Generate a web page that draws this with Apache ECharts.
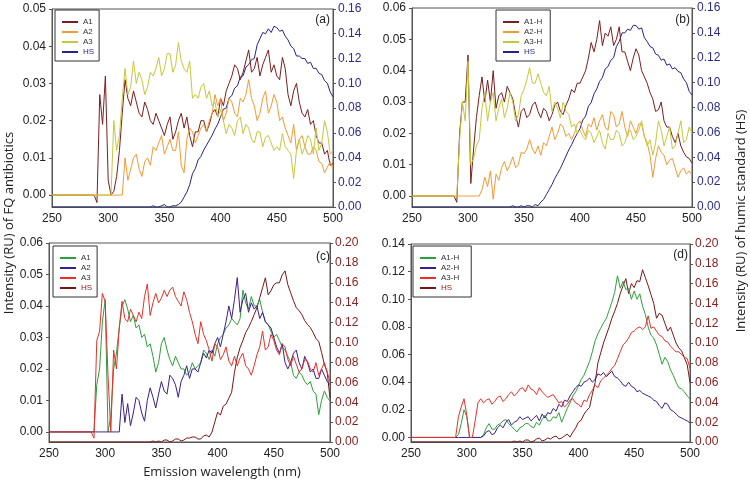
<!DOCTYPE html>
<html>
<head>
<meta charset="utf-8">
<script src="https://cdn.jsdelivr.net/npm/echarts@6/dist/echarts.min.js"></script>
<style>
html, body { margin: 0; padding: 0; background: #fff; }
#chart { width: 750px; height: 481px; }
</style>
</head>
<body>
<div id="chart"></div>
<script>
var myChart = echarts.init(document.getElementById('chart'));

// emission wavelength (nm), shared by every curve
var wl = [250, 287.5, 290, 292.5, 295, 297.5,
  300, 302.5, 305, 307.5, 310, 312.5, 315, 317.5, 320, 322.5, 325, 327.5, 330, 332.5, 335, 337.5, 340, 342.5, 345, 347.5,
  350, 352.5, 355, 357.5, 360, 362.5, 365, 367.5, 370, 372.5, 375, 377.5, 380, 382.5, 385, 387.5, 390, 392.5, 395, 397.5,
  400, 402.5, 405, 407.5, 410, 412.5, 415, 417.5, 420, 422.5, 425, 427.5, 430, 432.5, 435, 437.5, 440, 442.5, 445, 447.5,
  450, 452.5, 455, 457.5, 460, 462.5, 465, 467.5, 470, 472.5, 475, 477.5, 480, 482.5, 485, 487.5, 490, 492.5, 495, 497.5,
  500];

// (a) FQ antibiotics (left axis) + HS (right axis)
var aA1 = [0, 0, -0.002, 0.027, 0.019, 0.032,
  0.004, 0, 0.001, 0.005, 0.012, 0.022, 0.031, 0.026, 0.024, 0.028, 0.025, 0.022, 0.021, 0.025, 0.023, 0.02, 0.019, 0.022, 0.02, 0.018,
  0.016, 0.019, 0.021, 0.015, 0.017, 0.02, 0.022, 0.018, 0.021, 0.016, 0.013, 0.017, 0.017, 0.02, 0.02, 0.017, 0.019, 0.022, 0.023, 0.021,
  0.026, 0.024, 0.028, 0.03, 0.032, 0.035, 0.034, 0.031, 0.033, 0.036, 0.039, 0.033, 0.034, 0.037, 0.032, 0.035, 0.037, 0.039, 0.033, 0.035,
  0.032, 0.031, 0.037, 0.034, 0.027, 0.024, 0.028, 0.03, 0.025, 0.022, 0.021, 0.023, 0.019, 0.02, 0.016, 0.014, 0.014, 0.011, 0.012, 0.008,
  0.0085];
var aA2 = [0, 0, 0, 0, 0, 0,
  0, 0, 0, 0, 0, 0, 0.01, 0.004, 0.007, 0.01, 0.011, 0.007, 0.005, 0.009, 0.01, 0.008, 0.013, 0.012, 0.014, 0.016,
  0.011, 0.013, 0.015, 0.012, 0.012, 0.017, 0.008, 0.006, 0.015, 0.018, 0.017, 0.014, 0.016, 0.018, 0.019, 0.017, 0.02, 0.022, 0.027, 0.024,
  0.026, 0.02, 0.022, 0.026, 0.025, 0.022, 0.021, 0.026, 0.025, 0.027, 0.031, 0.026, 0.024, 0.02, 0.022, 0.026, 0.028, 0.022, 0.024, 0.027,
  0.025, 0.02, 0.021, 0.018, 0.016, 0.014, 0.019, 0.012, 0.015, 0.016, 0.013, 0.011, 0.011, 0.013, 0.012, 0.009, 0.0085, 0.006, 0.0075, 0.009,
  0.007];
var aA3 = [0, 0, 0, 0, 0, 0,
  0, 0, 0.02, 0.012, 0.016, 0.026, 0.034, 0.027, 0.029, 0.036, 0.03, 0.033, 0.031, 0.027, 0.029, 0.033, 0.032, 0.034, 0.037, 0.032,
  0.034, 0.038, 0.038, 0.033, 0.035, 0.041, 0.036, 0.034, 0.033, 0.036, 0.026, 0.027, 0.026, 0.029, 0.03, 0.026, 0.028, 0.024, 0.025, 0.021,
  0.023, 0.02, 0.0165, 0.019, 0.018, 0.016, 0.02, 0.021, 0.0165, 0.019, 0.018, 0.015, 0.014, 0.017, 0.017, 0.013, 0.0155, 0.016, 0.014, 0.012,
  0.013, 0.012, 0.0165, 0.013, 0.012, 0.011, 0.0045, 0.012, 0.015, 0.011, 0.013, 0.016, 0.015, 0.011, 0.018, 0.012, 0.014, 0.02, 0.017, 0.011,
  0.012];
var aHS = [0, 0, 0, 0, 0, 0,
  0, 0, 0, 0, 0, 0, 0, 0, 0, 0, 0, 0, 0, 0, 0, 0, 0.001, 0, 0, 0.001,
  0.002, 0, 0, 0.001, 0.001, 0.002, 0.004, 0.008, 0.012, 0.018, 0.027, 0.031, 0.038, 0.041, 0.046, 0.05, 0.054, 0.058, 0.063, 0.067,
  0.073, 0.079, 0.08, 0.088, 0.09, 0.096, 0.098, 0.105, 0.106, 0.113, 0.115, 0.119, 0.12, 0.131, 0.136, 0.141, 0.14, 0.144, 0.141, 0.146,
  0.145, 0.142, 0.143, 0.138, 0.135, 0.13, 0.128, 0.122, 0.122, 0.12, 0.12, 0.116, 0.117, 0.112, 0.112, 0.108, 0.107, 0.102, 0.1, 0.093,
  0.089];

// (b) -H samples + HS
var bA1 = [0, 0, -0.002, 0.02, 0.03, 0.03,
  0.045, 0.004, 0.015, 0.025, 0.032, 0.038, 0.03, 0.037, 0.03, 0.04, 0.028, 0.032, 0.033, 0.03, 0.035, 0.033, 0.031, 0.026, 0.022, 0.027,
  0.028, 0.025, 0.026, 0.029, 0.03, 0.027, 0.025, 0.028, 0.027, 0.024, 0.026, 0.029, 0.03, 0.027, 0.026, 0.029, 0.031, 0.034, 0.033, 0.036,
  0.036, 0.038, 0.04, 0.044, 0.049, 0.046, 0.05, 0.056, 0.048, 0.052, 0.051, 0.054, 0.048, 0.05, 0.054, 0.046, 0.046, 0.043, 0.04, 0.044,
  0.047, 0.045, 0.04, 0.038, 0.036, 0.033, 0.031, 0.027, 0.0275, 0.03, 0.024, 0.022, 0.022, 0.019, 0.017, 0.02, 0.016, 0.014, 0.0125, 0.012,
  0.0105];
var bA2 = [0, 0, 0, 0, 0, 0,
  0, 0, 0, 0, 0, 0.002, 0.006, 0.003, 0.008, -0.001, 0.007, 0.005, 0.009, 0.011, 0.008, 0.01, 0.0125, 0.009, 0.01, 0.014,
  0.0135, 0.015, 0.018, 0.015, 0.0135, 0.016, 0.013, 0.017, 0.016, 0.019, 0.022, 0.018, 0.02, 0.023, 0.022, 0.019, 0.02, 0.018, 0.02, 0.023,
  0.024, 0.021, 0.019, 0.023, 0.022, 0.025, 0.021, 0.024, 0.026, 0.022, 0.021, 0.027, 0.026, 0.022, 0.023, 0.027, 0.022, 0.019, 0.024, 0.022,
  0.02, 0.023, 0.023, 0.019, 0.017, 0.013, 0.006, 0.012, 0.016, 0.014, 0.013, 0.01, 0.0115, 0.012, 0.009, 0.006, 0.008, 0.009, 0.007, 0.008,
  0.0067];
var bA3 = [0, 0, 0, 0.018, 0.03, 0.024,
  0.043, 0.01, 0.012, 0.016, 0.018, 0.028, 0.033, 0.024, 0.03, 0.033, 0.024, 0.028, 0.031, 0.025, 0.028, 0.033, 0.03, 0.024, 0.026, 0.032,
  0.034, 0.037, 0.041, 0.036, 0.036, 0.039, 0.036, 0.033, 0.032, 0.035, 0.027, 0.03, 0.028, 0.025, 0.03, 0.027, 0.026, 0.022, 0.023, 0.02,
  0.021, 0.019, 0.018, 0.021, 0.02, 0.017, 0.019, 0.021, 0.017, 0.015, 0.02, 0.018, 0.018, 0.021, 0.02, 0.016, 0.017, 0.02, 0.021, 0.018,
  0.019, 0.021, 0.024, 0.019, 0.016, 0.018, 0.013, 0.017, 0.024, 0.021, 0.016, 0.019, 0.022, 0.015, 0.016, 0.02, 0.024, 0.017, 0.018, 0.022,
  0.02];
var bHS = [0, 0, 0, 0, 0, 0,
  0, 0, 0, 0, 0, 0, 0, 0, 0, 0, 0, 0, 0, 0, 0, 0, 0.001, 0, 0, 0.001,
  0, 0.001, 0.001, 0, 0.002, 0.001, 0.004, 0.006, 0.01, 0.014, 0.018, 0.023, 0.027, 0.031, 0.036, 0.041, 0.046, 0.05, 0.055, 0.059,
  0.063, 0.07, 0.073, 0.081, 0.084, 0.091, 0.095, 0.101, 0.104, 0.111, 0.113, 0.118, 0.12, 0.129, 0.133, 0.14, 0.14, 0.143, 0.142, 0.146,
  0.146, 0.143, 0.144, 0.136, 0.133, 0.129, 0.128, 0.123, 0.122, 0.118, 0.119, 0.114, 0.115, 0.111, 0.112, 0.109, 0.108, 0.103, 0.1, 0.093,
  0.09];

// (c)
var cA1 = [0, 0, 0, 0.015, 0.02, 0.035,
  0.042, 0, 0.005, 0.02, 0.025, 0.033, 0.04, 0.042, 0.039, 0.035, 0.037, 0.033, 0.034, 0.03, 0.031, 0.027, 0.028, 0.024, 0.019, 0.022,
  0.028, 0.03, 0.026, 0.023, 0.021, 0.024, 0.022, 0.02, 0.02, 0.018, 0.019, 0.022, 0.02, 0.021, 0.022, 0.026, 0.025, 0.023, 0.026, 0.024,
  0.028, 0.03, 0.031, 0.033, 0.034, 0.036, 0.035, 0.034, 0.036, 0.045, 0.041, 0.039, 0.043, 0.04, 0.04, 0.042, 0.038, 0.035, 0.034, 0.032,
  0.03, 0.031, 0.029, 0.027, 0.026, 0.024, 0.022, 0.018, 0.017, 0.019, 0.018, 0.016, 0.015, 0.016, 0.013, 0.012, 0.0055, 0.01, 0.013, 0.011,
  0.0098];
var cA2 = [0, 0, 0, 0, 0, 0,
  0, 0, 0, 0, 0, 0, 0.012, 0.003, 0.009, 0.002, 0.006, 0.011, 0.01, 0.006, 0.0034, 0.01, 0.014, 0.011, 0.0076, 0.012,
  0.016, 0.013, 0.012, 0.018, 0.017, 0.015, 0.011, 0.016, 0.018, 0.021, 0.017, 0.02, 0.02, 0.019, 0.022, 0.025, 0.0235, 0.026, 0.025, 0.028,
  0.03, 0.027, 0.031, 0.035, 0.04, 0.036, 0.042, 0.049, 0.038, 0.042, 0.044, 0.038, 0.041, 0.039, 0.04, 0.036, 0.038, 0.035, 0.034, 0.033,
  0.03, 0.027, 0.025, 0.028, 0.022, 0.02, 0.022, 0.025, 0.026, 0.022, 0.02, 0.024, 0.022, 0.019, 0.02, 0.017, 0.017, 0.02, 0.018, 0.016,
  0.015];
var cA3 = [0, 0, -0.002, 0.029, 0.032, 0.044,
  0.0415, 0.018, 0, 0.026, 0.02, 0.033, 0.0415, 0.036, 0.035, 0.039, 0.037, 0.035, 0.038, 0.036, 0.043, 0.047, 0.037, 0.041, 0.044, 0.041,
  0.0425, 0.045, 0.043, 0.045, 0.046, 0.043, 0.0415, 0.04, 0.0445, 0.042, 0.038, 0.035, 0.031, 0.028, 0.035, 0.031, 0.029, 0.026, 0.0225, 0.028,
  0.027, 0.023, 0.0245, 0.027, 0.0225, 0.021, 0.024, 0.021, 0.0235, 0.025, 0.021, 0.02, 0.018, 0.021, 0.0245, 0.027, 0.032, 0.026, 0.027, 0.031,
  0.029, 0.026, 0.0245, 0.028, 0.027, 0.023, 0.021, 0.024, 0.0215, 0.019, 0.02, 0.023, 0.0225, 0.02, 0.019, 0.022, 0.018, 0.02, 0.022, 0.019,
  0.016];
var cHS = [0, 0, 0, 0, 0, 0,
  0, 0, 0, 0, 0, 0, 0, 0, 0, 0, 0, 0, 0, 0, 0, 0, 0, 0.001, 0, 0.001,
  0, 0.002, 0.002, 0, 0.001, 0.003, 0.003, 0.001, 0.002, 0.004, 0.004, 0.005, 0.005, 0.003, 0.003, 0.006, 0.007, 0.005, 0.01, 0.02,
  0.03, 0.027, 0.036, 0.038, 0.044, 0.05, 0.07, 0.085, 0.095, 0.102, 0.11, 0.115, 0.121, 0.128, 0.135, 0.145, 0.155, 0.165, 0.148, 0.152,
  0.158, 0.16, 0.16, 0.168, 0.172, 0.158, 0.15, 0.142, 0.135, 0.132, 0.128, 0.122, 0.118, 0.115, 0.11, 0.104, 0.101, 0.09, 0.078, 0.07,
  0.044];

// (d)
var dA1 = [0, 0, 0, 0.002, 0.01, 0.02,
  0.015, 0, 0, 0, 0, 0, 0.002, 0.007, 0.01, 0.006, 0.006, 0.009, 0.01, 0.012, 0.013, 0.01, 0.008, 0.006, 0.004, 0.007,
  0.008, 0.01, 0.01, 0.008, 0.007, 0.011, 0.009, 0.013, 0.016, 0.012, 0.012, 0.015, 0.014, 0.018, 0.011, 0.016, 0.021, 0.025, 0.03, 0.033,
  0.037, 0.042, 0.045, 0.05, 0.055, 0.062, 0.07, 0.075, 0.079, 0.083, 0.086, 0.092, 0.098, 0.105, 0.117, 0.108, 0.113, 0.107, 0.108, 0.1,
  0.106, 0.1, 0.104, 0.095, 0.089, 0.08, 0.074, 0.072, 0.067, 0.06, 0.053, 0.058, 0.055, 0.049, 0.045, 0.04, 0.036, 0.035, 0.033, 0.03,
  0.028];
var dA2 = [0, 0, 0, 0, 0, 0,
  0, 0, 0, 0, 0, 0, 0.001, 0.004, 0.005, 0.002, 0.003, 0.007, 0.009, 0.007, 0.011, 0.013, 0.009, 0.011, 0.012, 0.015,
  0.013, 0.014, 0.015, 0.012, 0.014, 0.016, 0.012, 0.017, 0.014, 0.018, 0.017, 0.021, 0.019, 0.024, 0.022, 0.027, 0.026, 0.03, 0.033, 0.036,
  0.038, 0.037, 0.04, 0.041, 0.043, 0.04, 0.042, 0.046, 0.045, 0.047, 0.044, 0.046, 0.048, 0.044, 0.043, 0.041, 0.038, 0.037, 0.04, 0.037,
  0.036, 0.033, 0.034, 0.032, 0.031, 0.03, 0.029, 0.027, 0.026, 0.023, 0.021, 0.025, 0.024, 0.02, 0.019, 0.017, 0.015, 0.014, 0.013, 0.012,
  0.0105];
var dA3 = [0, 0, 0, 0.015, 0.022, 0.028,
  0.016, 0, 0, 0.012, 0.025, 0.028, 0.025, 0.027, 0.028, 0.024, 0.026, 0.029, 0.03, 0.026, 0.028, 0.031, 0.033, 0.03, 0.032, 0.035,
  0.036, 0.033, 0.038, 0.035, 0.034, 0.031, 0.036, 0.033, 0.031, 0.029, 0.03, 0.031, 0.028, 0.025, 0.026, 0.022, 0.024, 0.027, 0.028, 0.025,
  0.024, 0.022, 0.027, 0.026, 0.031, 0.034, 0.038, 0.036, 0.041, 0.043, 0.045, 0.047, 0.05, 0.052, 0.057, 0.062, 0.067, 0.069, 0.072, 0.076,
  0.077, 0.079, 0.08, 0.078, 0.08, 0.088, 0.079, 0.08, 0.077, 0.074, 0.073, 0.07, 0.069, 0.066, 0.064, 0.062, 0.062, 0.06, 0.058, 0.057,
  0.05];
var dHS = [0, 0, 0, 0, 0, 0,
  0, 0, 0, 0, 0, 0, 0, 0, 0, 0, 0, 0, 0, 0, 0, 0, 0, 0.001, 0, 0.001,
  0, 0.002, 0.002, 0, 0.001, 0.003, 0.004, 0.001, 0.002, 0.004, 0.003, 0.005, 0.006, 0.003, 0.004, 0.006, 0.008, 0.005, 0.01, 0.014,
  0.02, 0.022, 0.028, 0.032, 0.035, 0.048, 0.06, 0.08, 0.09, 0.1, 0.108, 0.116, 0.125, 0.132, 0.14, 0.15, 0.158, 0.165, 0.15, 0.16,
  0.156, 0.163, 0.162, 0.174, 0.166, 0.158, 0.149, 0.14, 0.125, 0.13, 0.128, 0.12, 0.112, 0.116, 0.108, 0.1, 0.095, 0.092, 0.085, 0.078,
  0.06];

// tick labels
var leftTicksA = [0, 0.01, 0.02, 0.03, 0.04, 0.05];
var leftTicksB = [0, 0.01, 0.02, 0.03, 0.04, 0.05, 0.06];
var leftTicksD = [0, 0.02, 0.04, 0.06, 0.08, 0.10, 0.12, 0.14];

var col1 = ['#7b1e1e', '#f29a35', '#c6c83a', '#24248e'];   // A1 A2 A3 HS  (a,b)
var col2 = ['#2e9e3c', '#3b1f8c', '#e8302a', '#7a1515'];   // A1 A2 A3 HS  (c,d)
var navyLbl = '#2b2b8c', redLbl = '#8a2020';
var tickFont = 'Liberation Sans';

var grids = [
  { left: 52, top: 9, width: 281, height: 198 },
  { left: 412, top: 8, width: 280, height: 199 },
  { left: 49, top: 243, width: 281, height: 199 },
  { left: 411, top: 244, width: 279, height: 198 }
];

function line(name, vals, g, right, color) {
  return {
    name: name, type: 'line', xAxisIndex: g, yAxisIndex: g * 2 + (right ? 1 : 0),
    showSymbol: false, symbol: 'none', animation: false,
    lineStyle: { color: color, width: 1 },
    itemStyle: { color: color },
    data: wl.map(function (x, i) { return [x, vals[i]]; })
  };
}

function xAx(g) {
  return {
    gridIndex: g, type: 'value', min: 250, max: 500, interval: 50,
    axisLine: { show: true, onZero: false, lineStyle: { color: '#555', width: 1 } },
    axisTick: { show: false },
    splitLine: { show: false },
    axisLabel: { color: '#222', fontSize: 12, fontFamily: tickFont, margin: 6 }
  };
}

function leftAx(g, min, max, ticks) {
  return {
    gridIndex: g, type: 'value', position: 'left', min: min, max: max,
    axisLine: { show: true, onZero: false, lineStyle: { color: '#555', width: 1 } },
    axisTick: { show: true, length: 3, customValues: ticks, lineStyle: { color: '#555' } },
    splitLine: { show: false },
    axisLabel: {
      color: '#222', fontSize: 12, fontFamily: tickFont, margin: 6, customValues: ticks,
      formatter: function (v) { return v.toFixed(2); }
    }
  };
}

function rightAx(g, max, color) {
  return {
    gridIndex: g, type: 'value', position: 'right', min: 0, max: max, interval: 0.02,
    axisLine: { show: true, onZero: false, lineStyle: { color: '#555', width: 1 } },
    axisTick: { show: true, length: 3, lineStyle: { color: '#555' } },
    splitLine: { show: false },
    axisLabel: {
      color: color, fontSize: 12, fontFamily: tickFont, margin: 5,
      formatter: function (v) { return v.toFixed(2); }
    }
  };
}

// legend text is dark for the samples, HS takes its axis colour
function legend(prefix, names, hsColor, left, top, padRight) {
  return {
    orient: 'vertical', left: left, top: top,
    selectedMode: false,
    borderColor: '#333', borderWidth: 1, borderRadius: 0,
    padding: [7, padRight, 4, 7],
    itemGap: 0, itemWidth: 16, itemHeight: 2, icon: 'rect',
    textStyle: { fontSize: 8, fontFamily: tickFont, lineHeight: 10, padding: [0, 0, 0, 0] },
    formatter: function (n) { return n.split(':')[1]; },
    data: names.map(function (n) {
      return { name: prefix + ':' + n, textStyle: { color: n === 'HS' ? hsColor : '#333' } };
    })
  };
}

function txt(s, x, y, opt) {
  opt = opt || {};
  return {
    type: 'text', x: x, y: y, rotation: opt.rot || 0, silent: true,
    style: {
      text: s, fill: '#222',
      font: opt.font || '12px "Liberation Sans"',
      align: opt.align || 'center', verticalAlign: 'middle',
      textAlign: opt.align || 'center', textVerticalAlign: 'middle'
    }
  };
}

var namesA = ['A1', 'A2', 'A3', 'HS'];
var namesB = ['A1-H', 'A2-H', 'A3-H', 'HS'];

var option = {
  backgroundColor: '#fff',
  animation: false,
  grid: grids.map(function (g) {
    return { left: g.left, top: g.top, width: g.width, height: g.height,
      show: true, borderColor: '#555', borderWidth: 1, backgroundColor: 'transparent' };
  }),
  xAxis: [xAx(0), xAx(1), xAx(2), xAx(3)],
  yAxis: [
    leftAx(0, -0.0032, 0.05, leftTicksA), rightAx(0, 0.16, navyLbl),
    leftAx(1, -0.0035, 0.06, leftTicksB), rightAx(1, 0.16, navyLbl),
    leftAx(2, -0.0032, 0.06, leftTicksB), rightAx(2, 0.20, redLbl),
    leftAx(3, -0.0033, 0.14, leftTicksD), rightAx(3, 0.20, redLbl)
  ],
  legend: [
    legend('a', namesA, navyLbl, 55, 10, 5),
    legend('b', namesB, navyLbl, 496, 10, 8),
    legend('c', namesA, redLbl, 53, 246, 5),
    legend('d', namesB, redLbl, 413, 246, 12)
  ],
  graphic: [
    txt('(a)', 330, 20, { align: 'right' }),
    txt('(b)', 690, 20, { align: 'right' }),
    txt('(c)', 330, 257, { align: 'right' }),
    txt('(d)', 688, 255, { align: 'right' }),
    txt('Intensity (RU) of FQ antibiotics', 9, 223, { rot: Math.PI / 2, font: '13px "Open Sans"' }),
    txt('Intensity (RU) of humic standard (HS)', 741, 221, { rot: Math.PI / 2, font: '13px "Open Sans"' }),
    txt('Emission wavelength (nm)', 222, 472, { font: '13px "Open Sans"' })
  ],
  series: [
    line('a:HS', aHS, 0, true, col1[3]),
    line('a:A1', aA1, 0, false, col1[0]),
    line('a:A2', aA2, 0, false, col1[1]),
    line('a:A3', aA3, 0, false, col1[2]),
    line('b:HS', bHS, 1, true, col1[3]),
    line('b:A1-H', bA1, 1, false, col1[0]),
    line('b:A2-H', bA2, 1, false, col1[1]),
    line('b:A3-H', bA3, 1, false, col1[2]),
    line('c:HS', cHS, 2, true, col2[3]),
    line('c:A1', cA1, 2, false, col2[0]),
    line('c:A2', cA2, 2, false, col2[1]),
    line('c:A3', cA3, 2, false, col2[2]),
    line('d:HS', dHS, 3, true, col2[3]),
    line('d:A1-H', dA1, 3, false, col2[0]),
    line('d:A2-H', dA2, 3, false, col2[1]),
    line('d:A3-H', dA3, 3, false, col2[2])
  ]
};

myChart.setOption(option);
</script>
</body>
</html>
